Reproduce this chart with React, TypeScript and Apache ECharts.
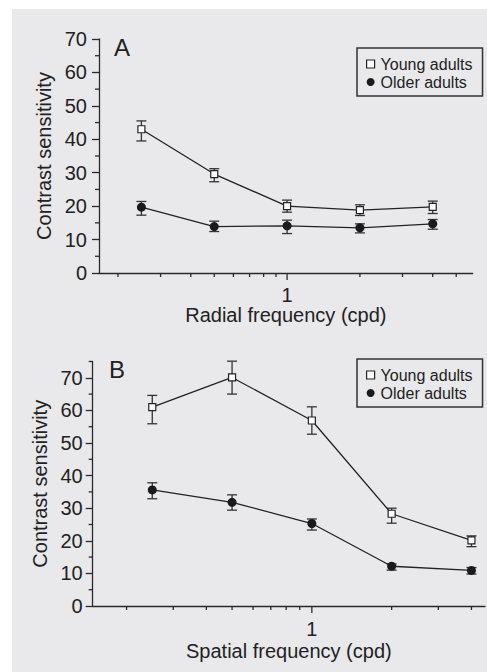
import React, { useEffect, useRef } from "react";
import * as echarts from "echarts";

// ---------- data ----------
const freqs = [0.25, 0.5, 1, 2, 4];

const youngA = [43, 29.6, 20, 18.8, 19.8];
const youngAHi = [45.5, 31.2, 21.8, 20.4, 21.5];
const youngALo = [39.5, 27.3, 18.2, 17.2, 17.8];
const olderA = [19.7, 13.9, 14.1, 13.5, 14.7];
const olderAHi = [21.4, 15.5, 15.8, 14.7, 16.0];
const olderALo = [17.3, 12.4, 11.8, 12.0, 13.1];

const youngB = [61, 70.1, 56.9, 28.3, 20.1];
const youngBHi = [64.6, 75.1, 61.1, 30.0, 21.5];
const youngBLo = [55.9, 65.0, 52.7, 25.4, 18.2];
const olderB = [35.6, 31.8, 25.3, 12.2, 10.9];
const olderBHi = [37.8, 34.1, 26.7, 12.9, 11.8];
const olderBLo = [32.9, 29.4, 23.3, 11.0, 9.8];

const xMajorTicks = [1];
const xMajorLabels = ["1"];
const xMinorTicksA = [0.2, 0.3, 0.4, 0.5, 0.6, 0.7, 0.8, 0.9, 2, 3, 4, 5];
const xMinorTicksB = [0.2, 0.3, 0.4, 0.5, 0.6, 0.7, 0.8, 0.9, 2, 3, 4];
const yMajorTicks = [0, 10, 20, 30, 40, 50, 60, 70];
const yMinorTicksA = [5, 15, 25, 35, 45, 55, 65];
const yMinorTicksB = [5, 15, 25, 35, 45, 55, 65, 75];

const seriesNames = ["Young adults", "Older adults"];
const xTitles = ["Radial frequency (cpd)", "Spatial frequency (cpd)"];
const yTitle = "Contrast sensitivity";
const panelLetters = ["A", "B"];

// ---------- style ----------
const FONT = "'Liberation Sans', Arial, Helvetica, sans-serif";
const INK = "#222";
const AXIS = "#2a2a2a";
const BG = "#e9e9eb";

export default function App() {
  const ref = useRef<HTMLDivElement>(null);

  useEffect(() => {
    document.body.style.margin = "0";
    if (!ref.current) return;
    const chart = echarts.init(ref.current, null, { renderer: "svg" });

    const errSeries = (gi: number, lo: number[], hi: number[], name: string) => ({
      type: "custom",
      name,
      xAxisIndex: gi,
      yAxisIndex: gi,
      z: 1,
      silent: true,
      data: freqs.map((f, i) => [f, lo[i], hi[i]]),
      renderItem: (params: any, api: any) => {
        const x = api.value(0);
        const pLo = api.coord([x, api.value(1)]);
        const pHi = api.coord([x, api.value(2)]);
        const w = 5;
        const st = { stroke: "#333", lineWidth: 1.3 };
        return {
          type: "group",
          children: [
            { type: "line", shape: { x1: pLo[0], y1: pLo[1], x2: pHi[0], y2: pHi[1] }, style: st },
            { type: "line", shape: { x1: pLo[0] - w, y1: pLo[1], x2: pLo[0] + w, y2: pLo[1] }, style: st },
            { type: "line", shape: { x1: pHi[0] - w, y1: pHi[1], x2: pHi[0] + w, y2: pHi[1] }, style: st },
          ],
        };
      },
    });

    const xTickSeries = (gi: number, minor: number[], labelDy: number) => ({
      type: "custom",
      xAxisIndex: gi,
      yAxisIndex: gi,
      silent: true,
      z: 3,
      dimensions: ["x", "y", "major", "label"],
      data: [
        ...minor.map((v) => [v, 0, 0, -1]),
        ...xMajorTicks.map((v, i) => [v, 0, 1, i]),
      ],
      renderItem: (params: any, api: any) => {
        const v = api.value(0);
        const isMajor = api.value(2) === 1;
        const p = api.coord([v, 0]);
        const len = isMajor ? 7 : 4;
        const children: any[] = [
          {
            type: "line",
            shape: { x1: p[0], y1: p[1], x2: p[0], y2: p[1] + len },
            style: { stroke: AXIS, lineWidth: 1.3 },
          },
        ];
        if (isMajor) {
          const li = xMajorTicks.indexOf(v);
          children.push({
            type: "text",
            x: p[0],
            y: p[1] + labelDy,
            style: {
              text: xMajorLabels[li >= 0 ? li : 0],
              fontSize: 20,
              fontFamily: FONT,
              fill: INK,
              align: "center",
              verticalAlign: "middle",
            },
          });
        }
        return { type: "group", children };
      },
    });

    const yMinorSeries = (gi: number, minor: number[]) => ({
      type: "custom",
      xAxisIndex: gi,
      yAxisIndex: gi,
      silent: true,
      z: 3,
      data: minor.map((v) => [1, v]),
      renderItem: (params: any, api: any) => {
        const p = api.coord([1, api.value(1)]);
        const x0 = params.coordSys.x;
        return {
          type: "line",
          shape: { x1: x0, y1: p[1], x2: x0 - 4, y2: p[1] },
          style: { stroke: AXIS, lineWidth: 1.3 },
        };
      },
    });

    const lineSeries = (gi: number, name: string, ys: number[], young: boolean) => ({
      type: "line",
      name,
      xAxisIndex: gi,
      yAxisIndex: gi,
      z: 4,
      data: freqs.map((f, i) => [f, ys[i]]),
      symbol: young ? "rect" : "circle",
      symbolSize: young ? 7 : 9,
      lineStyle: { color: INK, width: 1.3 },
      itemStyle: young
        ? { color: "#fff", borderColor: INK, borderWidth: 1.2 }
        : { color: "#1a1a1a", borderColor: "#1a1a1a", borderWidth: 0 },
      emphasis: { disabled: true },
    });

    const xAxisCommon = {
      type: "log",
      logBase: 10,
      nameLocation: "middle",
      nameTextStyle: { fontSize: 20, fontFamily: FONT, color: INK },
      axisLine: { show: true, lineStyle: { color: AXIS, width: 1.3 } },
      axisTick: { show: false },
      axisLabel: { show: false },
      splitLine: { show: false },
      minorTick: { show: false },
      minorSplitLine: { show: false },
    };

    const yAxisCommon = {
      type: "value",
      min: 0,
      interval: 10,
      name: yTitle,
      nameLocation: "middle",
      nameRotate: 90,
      nameTextStyle: { fontSize: 20, fontFamily: FONT, color: INK },
      axisLine: { show: true, lineStyle: { color: AXIS, width: 1.3 } },
      splitLine: { show: false },
    };

    const legendCommon = (gi: number, top: number) => ({
      orient: "vertical",
      left: 357,
      top,
      padding: [8, 10, 6, 9],
      itemGap: 2,
      itemWidth: 8,
      itemHeight: 8,
      borderColor: "#333",
      borderWidth: 1.5,
      borderRadius: 0,
      selectedMode: false,
      textStyle: { fontSize: 16, fontFamily: FONT, color: INK, padding: [0, 0, 0, 1] },
      data: [
        { name: seriesNames[0], icon: "rect", itemStyle: { color: "#fff", borderColor: INK, borderWidth: 1.2 } },
        { name: seriesNames[1], icon: "circle", itemStyle: { color: "#1a1a1a", borderWidth: 0 } },
      ],
    });

    const option: any = {
      animation: false,
      backgroundColor: "#fff",
      textStyle: { fontFamily: FONT },
      graphic: [
        { type: "rect", z: -10, shape: { x: 12, y: 9, width: 475, height: 663 }, style: { fill: BG } },
        {
          type: "text",
          x: 114,
          y: 47,
          style: { text: panelLetters[0], fontSize: 24, fontFamily: FONT, fill: INK, verticalAlign: "middle" },
        },
        {
          type: "text",
          x: 109,
          y: 369,
          style: { text: panelLetters[1], fontSize: 24, fontFamily: FONT, fill: INK, verticalAlign: "middle" },
        },
      ],
      legend: [legendCommon(0, 48), legendCommon(1, 359)],
      grid: [
        { left: 99, right: 14.3, top: 39, height: 234, containLabel: false },
        { left: 92.7, right: 2, top: 361.5, height: 244.5, containLabel: false },
      ],
      xAxis: [
        { ...xAxisCommon, gridIndex: 0, min: 0.167, max: 5.85, name: xTitles[0], nameGap: 32 },
        { ...xAxisCommon, gridIndex: 1, min: 0.149, max: 4.5, name: xTitles[1], nameGap: 35 },
      ],
      yAxis: [
        {
          ...yAxisCommon,
          gridIndex: 0,
          max: 70,
          nameGap: 44,
          axisTick: { show: true, length: 7, lineStyle: { color: AXIS, width: 1.3 } },
          axisLabel: { fontSize: 20, fontFamily: FONT, color: INK, margin: 12 },
        },
        {
          ...yAxisCommon,
          gridIndex: 1,
          max: 75,
          nameGap: 43,
          axisTick: {
            show: true,
            length: 7,
            customValues: yMajorTicks,
            lineStyle: { color: AXIS, width: 1.3 },
          },
          axisLabel: {
            fontSize: 20,
            fontFamily: FONT,
            color: INK,
            margin: 10,
            customValues: yMajorTicks,
            formatter: (v: number) => (v > 70 ? "" : String(v)),
          },
        },
      ],
      series: [
        errSeries(0, youngALo, youngAHi, "errYA"),
        errSeries(0, olderALo, olderAHi, "errOA"),
        lineSeries(0, seriesNames[0], youngA, true),
        lineSeries(0, seriesNames[1], olderA, false),
        xTickSeries(0, xMinorTicksA, 22),
        yMinorSeries(0, yMinorTicksA),
        errSeries(1, youngBLo, youngBHi, "errYB"),
        errSeries(1, olderBLo, olderBHi, "errOB"),
        lineSeries(1, seriesNames[0], youngB, true),
        lineSeries(1, seriesNames[1], olderB, false),
        xTickSeries(1, xMinorTicksB, 23),
        yMinorSeries(1, yMinorTicksB),
      ],
    };

    chart.setOption(option);
    return () => chart.dispose();
  }, []);

  return <div ref={ref} style={{ width: 487, height: 672 }} />;
}
